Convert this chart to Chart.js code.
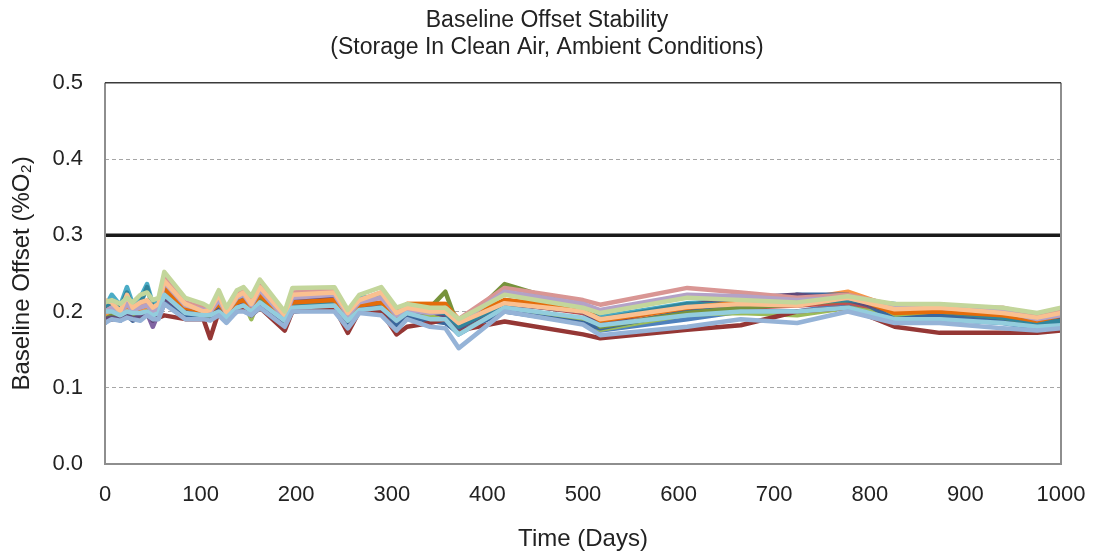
<!DOCTYPE html>
<html>
<head>
<meta charset="utf-8">
<title>Baseline Offset Stability</title>
<script src="https://cdn.jsdelivr.net/npm/chart.js@4.4.1/dist/chart.umd.min.js"></script>
<style>
  html, body { margin: 0; padding: 0; background: #fff; }
  canvas { display: block; }
</style>
</head>
<body>
<canvas id="chart" width="1094" height="551"></canvas>
<script>
// Tiempos de medición (días)
const days = [0, 7, 16, 23, 29, 37, 44, 50, 56, 62, 84, 103, 110, 119, 127, 138, 145, 153, 162, 188, 196,
    240, 254, 266, 289, 305, 316, 340, 356, 370, 418, 500, 518, 609, 665, 724, 777, 826, 873, 939, 975, 1000];

const xTicks = [0, 100, 200, 300, 400, 500, 600, 700, 800, 900, 1000];
const yTicks = [0.0, 0.1, 0.2, 0.3, 0.4, 0.5];
const limitValue = 0.3;

// Offset de cada sensor (%O2)
const s01 = [.185,.195,.188,.195,.192,.19,.2,.188,.195,.215,.198,.195,.195,.2,.19,.205,.208,.198,.21,.18,.205,.208,.18,.2,.205,.18,.195,.19,.188,.17,.205,.188,.175,.19,.2,.2,.21,.19,.19,.185,.178,.182];
const s02 = [.195,.2,.198,.205,.2,.2,.205,.2,.2,.228,.205,.2,.198,.208,.195,.212,.215,.205,.22,.188,.212,.215,.19,.208,.21,.19,.2,.195,.198,.18,.212,.198,.182,.2,.205,.208,.212,.198,.2,.192,.185,.19];
const s03 = [.195,.198,.195,.2,.198,.2,.205,.198,.2,.225,.205,.198,.198,.205,.195,.21,.212,.19,.218,.19,.205,.208,.188,.2,.2,.19,.2,.195,.195,.178,.205,.19,.176,.196,.198,.195,.205,.195,.195,.19,.182,.185];
const s04 = [.19,.195,.19,.2,.195,.195,.198,.18,.198,.22,.2,.195,.195,.205,.19,.21,.21,.198,.215,.19,.21,.212,.19,.205,.208,.19,.198,.2,.195,.18,.215,.2,.19,.21,.215,.22,.215,.2,.205,.198,.19,.192];
const s05 = [.205,.222,.208,.232,.21,.218,.236,.21,.215,.235,.21,.205,.2,.215,.198,.225,.23,.21,.23,.195,.218,.22,.2,.218,.22,.2,.208,.205,.2,.185,.212,.211,.193,.211,.215,.215,.22,.2,.2,.19,.185,.19];
const s06 = [.195,.2,.195,.205,.198,.2,.205,.195,.2,.225,.2,.198,.195,.205,.195,.21,.212,.2,.215,.19,.21,.212,.19,.205,.21,.195,.21,.21,.21,.19,.21,.21,.186,.205,.21,.215,.226,.205,.2,.195,.188,.195];
const s07 = [.19,.19,.19,.195,.188,.192,.195,.19,.192,.21,.195,.192,.19,.198,.188,.2,.205,.195,.205,.182,.2,.205,.182,.2,.198,.18,.192,.188,.185,.172,.2,.185,.178,.2,.205,.222,.222,.19,.195,.188,.18,.185];
const s08 = [.19,.19,.192,.195,.19,.192,.195,.19,.192,.195,.19,.19,.165,.2,.19,.205,.205,.195,.205,.175,.2,.205,.172,.2,.2,.17,.18,.185,.19,.175,.187,.17,.165,.176,.182,.2,.205,.18,.172,.172,.172,.175];
const s09 = [.19,.195,.19,.198,.195,.195,.2,.195,.198,.22,.2,.195,.195,.205,.192,.205,.21,.2,.215,.188,.21,.21,.188,.205,.205,.19,.205,.205,.226,.178,.236,.205,.18,.198,.205,.21,.215,.2,.2,.192,.185,.19];
const s10 = [.19,.192,.19,.198,.19,.195,.198,.188,.195,.218,.2,.2,.195,.205,.19,.205,.215,.2,.21,.188,.215,.218,.19,.205,.205,.188,.198,.2,.195,.178,.21,.2,.185,.208,.218,.222,.215,.2,.205,.198,.19,.19];
const s11 = [.2,.215,.205,.225,.205,.21,.232,.205,.21,.225,.205,.2,.2,.21,.195,.215,.22,.205,.222,.19,.21,.212,.192,.215,.21,.192,.2,.2,.198,.18,.21,.205,.19,.21,.21,.212,.215,.21,.2,.192,.185,.188];
const s12 = [.2,.205,.2,.21,.2,.205,.208,.2,.205,.23,.205,.2,.2,.21,.198,.212,.215,.205,.222,.19,.212,.215,.19,.208,.212,.19,.21,.21,.21,.188,.215,.205,.188,.205,.212,.215,.222,.198,.2,.195,.188,.195];
const s13 = [.2,.205,.198,.21,.2,.208,.21,.2,.205,.245,.212,.205,.2,.22,.2,.222,.228,.212,.235,.195,.225,.228,.195,.215,.225,.2,.205,.2,.205,.19,.231,.215,.209,.231,.225,.218,.222,.208,.205,.205,.195,.2];
const s14 = [.2,.205,.2,.21,.202,.205,.208,.2,.205,.238,.208,.202,.2,.215,.198,.218,.222,.208,.228,.192,.218,.222,.195,.212,.218,.195,.202,.198,.2,.185,.226,.21,.202,.222,.22,.215,.218,.205,.205,.2,.19,.195];
const s15 = [.215,.212,.2,.222,.205,.212,.215,.205,.21,.24,.21,.2,.202,.222,.198,.22,.225,.21,.232,.195,.222,.225,.198,.215,.225,.198,.205,.2,.2,.185,.211,.2,.19,.206,.21,.208,.218,.203,.205,.198,.192,.198];
const s16 = [.212,.215,.21,.218,.212,.222,.225,.215,.218,.252,.218,.21,.205,.228,.205,.228,.232,.22,.242,.2,.231,.232,.202,.222,.232,.205,.21,.205,.205,.19,.222,.205,.198,.218,.215,.212,.22,.21,.21,.205,.198,.205];
const s17 = [.2,.2,.195,.2,.198,.198,.2,.195,.198,.222,.198,.195,.195,.2,.192,.205,.208,.2,.212,.188,.205,.208,.188,.202,.205,.188,.198,.19,.19,.17,.205,.192,.182,.195,.2,.2,.205,.19,.19,.185,.18,.182];
const s18 = [.185,.19,.188,.192,.19,.188,.195,.19,.19,.21,.19,.19,.188,.195,.185,.2,.2,.195,.205,.18,.2,.2,.178,.198,.195,.175,.19,.18,.178,.152,.2,.183,.169,.18,.19,.185,.2,.185,.185,.178,.175,.178];

const sensors = [s01, s02, s03, s04, s05, s06, s07, s08, s09, s10, s11, s12, s13, s14, s15, s16, s17, s18];
const colors = ['#4F81BD', '#C0504D', '#9BBB59', '#8064A2', '#4BACC6', '#F79646',
    '#3A679C', '#953735', '#77933C', '#604A7B', '#31859C', '#E46C0A',
    '#D99694', '#B3A2C7', '#FAC090', '#C3D69B', '#93CDDD', '#95B3D7'];

const datasets = sensors.map((vals, i) => ({
    label: 'Sensor ' + (i + 1),
    data: days.map((d, j) => ({ x: d, y: vals[j] })),
    borderColor: colors[i],
    borderWidth: 4.5,
    pointRadius: 0,
    borderJoinStyle: 'round',
    borderCapStyle: 'round',
    tension: 0,
    // la primera serie queda abajo, la última arriba
    order: sensors.length - i
}));

datasets.push({
    label: 'Limit',
    data: [{ x: xTicks[0], y: limitValue }, { x: xTicks[xTicks.length - 1], y: limitValue }],
    borderColor: '#1a1a1a',
    borderWidth: 3.5,
    pointRadius: 0,
    order: 0
});

// Marco del área de trazado
const framePlugin = {
    id: 'frame',
    afterDraw(chart) {
        const { ctx, chartArea: a } = chart;
        ctx.save();
        ctx.strokeStyle = '#8e8e8e';
        ctx.lineWidth = 2;
        ctx.beginPath();
        ctx.moveTo(a.left, a.top);
        ctx.lineTo(a.left, a.bottom);
        ctx.lineTo(a.right, a.bottom);
        ctx.lineTo(a.right, a.top);
        ctx.stroke();
        ctx.strokeStyle = '#3a3a3a';
        ctx.lineWidth = 1.5;
        ctx.beginPath();
        ctx.moveTo(a.left, a.top);
        ctx.lineTo(a.right, a.top);
        ctx.stroke();
        ctx.restore();
    }
};

const FONT = 'Liberation Sans, Arial, sans-serif';

new Chart(document.getElementById('chart'), {
    type: 'line',
    data: { datasets },
    plugins: [framePlugin],
    options: {
        responsive: false,
        animation: false,
        layout: { padding: 0 },
        plugins: {
            legend: { display: false },
            tooltip: { enabled: false },
            title: {
                display: true,
                text: ['Baseline Offset Stability', '(Storage In Clean Air, Ambient Conditions)'],
                color: '#222',
                font: { family: FONT, size: 23, weight: 'normal', lineHeight: 1.17 },
                padding: { top: 7, bottom: 22 }
            }
        },
        scales: {
            x: {
                type: 'linear',
                min: xTicks[0],
                max: xTicks[xTicks.length - 1],
                afterBuildTicks: (s) => { s.ticks = xTicks.map(v => ({ value: v })); },
                afterFit: (s) => {
                    s.height = 87;
                    s.paddingLeft = 0;
                    s.paddingRight = 33;
                },
                grid: { display: false, drawTicks: false },
                border: { display: false },
                ticks: {
                    color: '#222',
                    padding: 18,
                    maxRotation: 0,
                    font: { family: FONT, size: 22 },
                    callback: (v) => String(v)
                },
                title: {
                    display: true,
                    text: 'Time (Days)',
                    color: '#222',
                    font: { family: FONT, size: 24, lineHeight: 1 },
                    padding: { top: 0, bottom: 0 }
                }
            },
            y: {
                min: yTicks[0],
                max: yTicks[yTicks.length - 1],
                afterBuildTicks: (s) => { s.ticks = yTicks.map(v => ({ value: v })); },
                afterFit: (s) => { s.width = 105; },
                grid: {
                    drawTicks: false,
                    lineWidth: 1,
                    color: (c) => {
                        const v = Math.round(c.tick.value * 10) / 10;
                        return (v === 0.1 || v === 0.2 || v === 0.4) ? '#a6a6a6' : 'rgba(0,0,0,0)';
                    }
                },
                border: { display: false, dash: [4, 3] },
                ticks: {
                    color: '#222',
                    padding: 22,
                    font: { family: FONT, size: 22 },
                    callback: (v) => v.toFixed(1)
                },
                title: {
                    display: true,
                    text: 'Baseline Offset (%O₂)',
                    color: '#222',
                    font: { family: FONT, size: 24, lineHeight: 1.2 },
                    padding: { top: 8, bottom: 0 }
                }
            }
        }
    }
});
</script>
</body>
</html>
